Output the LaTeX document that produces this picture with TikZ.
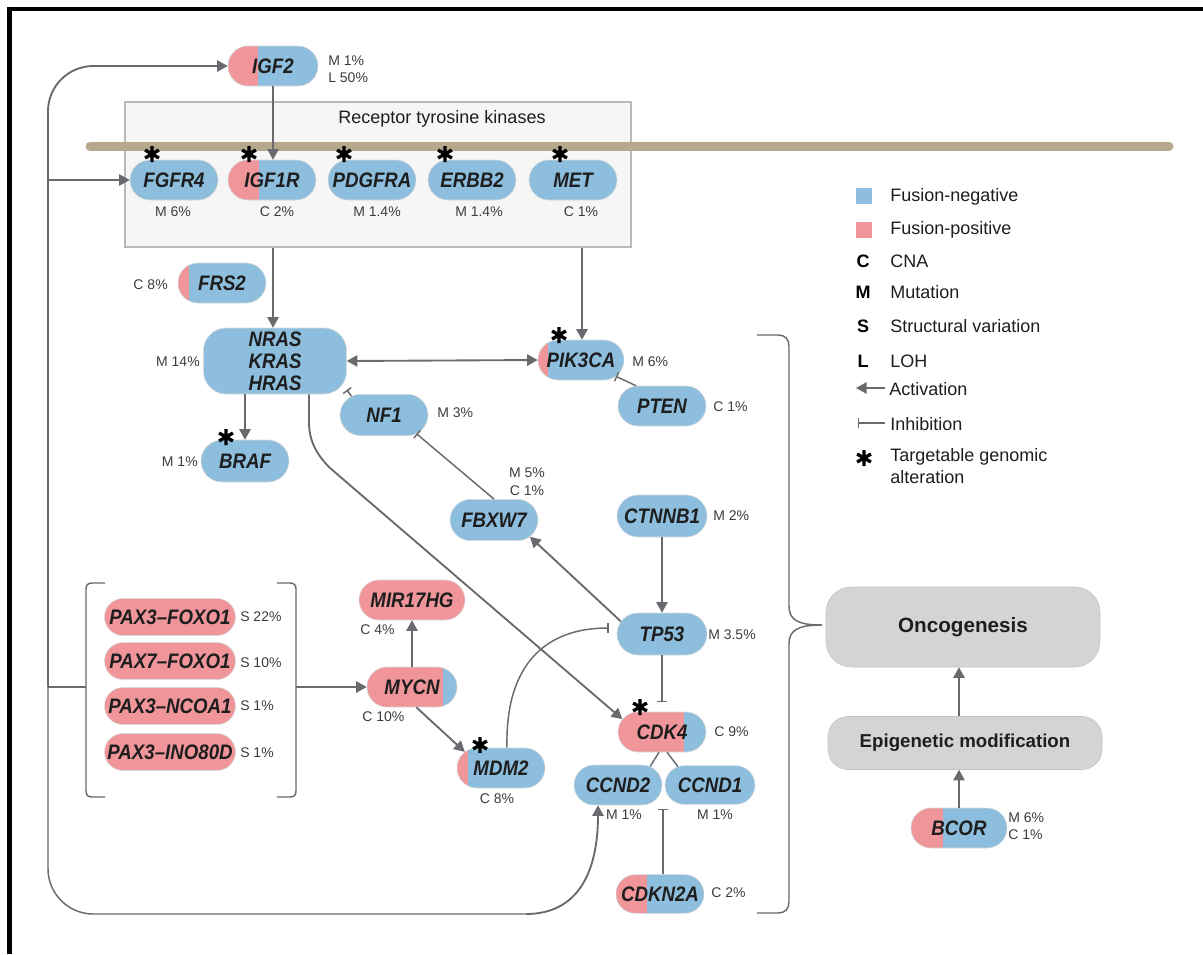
\documentclass[tikz,border=0pt]{standalone}
\usepackage{fontspec}
\setmainfont{Liberation Sans}
\newfontfamily\gf[FakeStretch=0.89]{Liberation Sans}
\usetikzlibrary{arrows.meta,shapes.misc,calc}
\definecolor{blu}{RGB}{141,190,221}
\definecolor{pnk}{RGB}{240,150,155}
\definecolor{agray}{RGB}{105,106,110}
\definecolor{mem}{RGB}{181,168,140}
\definecolor{boxg}{RGB}{212,212,214}
\definecolor{rtkf}{RGB}{246,246,246}
\definecolor{rtkd}{RGB}{185,185,185}
\definecolor{txt}{RGB}{30,30,30}
\definecolor{lbl}{RGB}{60,60,60}
\tikzset{
 gene/.style={rounded rectangle, fill=blu, draw=white!70!gray, line width=0.4pt,
   minimum width=66pt, minimum height=30pt, inner xsep=0pt, inner ysep=0pt, text=txt,
   font=\gf\bfseries\itshape\fontsize{15.75}{16.5}\selectfont},
 pinkpart/.style={path picture={\fill[pnk] (path picture bounding box.south west) rectangle ($(path picture bounding box.north west)+(#1,0)$);}},
 allpink/.style={fill=pnk},
 lab/.style={text=lbl, font=\fontsize{10.5}{13}\selectfont, inner sep=0pt},
 act/.style={draw=agray, line width=1.4pt, -{Triangle[length=8pt,width=8.5pt]}},
 dact/.style={draw=agray, line width=1.4pt, {Triangle[length=8pt,width=8.5pt]}-{Triangle[length=8pt,width=8.5pt]}},
 inh/.style={draw=agray, line width=1.1pt, -{Bar[width=7.5pt]}},
 conn/.style={draw=agray, line width=1.1pt},
 astk/.style={line width=2.5pt, draw=black},
 legt/.style={font=\fontsize{13.5}{17}\selectfont, anchor=west, inner sep=0pt, text=txt},
 legc/.style={font=\bfseries\fontsize{13.5}{17}\selectfont, inner sep=0pt, text=black},
 bigbox/.style={rectangle, fill=boxg, draw=boxg!92!black, line width=0.4pt, text=txt},
}
\newcommand\tast[1]{\draw[astk, shift={(#1)}] (90:8) -- (270:8) (30:8) -- (210:8) (150:8) -- (330:8);}
\begin{document}
\begin{tikzpicture}[x=0.75pt,y=-0.75pt]
\useasboundingbox (0,0) rectangle (1203,954);
% frame
\draw[line width=3.5pt, black] (9.5,954) -- (9.5,9) -- (1203,9);

% RTK box and membrane
\node[draw=rtkd, fill=rtkf, line width=0.8pt, minimum width=379.5pt, minimum height=108.75pt, inner sep=0pt] (RTK) at (378,174.5) {};
\node[legt, anchor=center] (RTKt) at (442,119) {Receptor tyrosine kinases};
\draw[mem, line width=6.75pt, line cap=round] (90,146) -- (1169,146);

% genes
\node[gene, pinkpart=30, minimum width=67.5pt] (IGF2) at (273,66) {IGF2};
\node[gene] (FGFR4) at (174,180) {FGFR4};
\node[gene, pinkpart=31] (IGF1R) at (272,180) {IGF1R};
\node[gene] (PDGFRA) at (372,180) {PDGFRA};
\node[gene] (ERBB2) at (472,180) {ERBB2};
\node[gene] (MET) at (573,180) {MET};
\node[gene, pinkpart=11] (FRS2) at (222,283) {FRS2};
\node[gene, rectangle, rounded corners=17pt, minimum width=107.25pt, minimum height=49.5pt, align=center] (NRAS) at (275,361) {NRAS\\KRAS\\HRAS};
\node[gene, pinkpart=10, minimum width=64.5pt] (PIK3CA) at (581,360) {PIK3CA};
\node[gene] (PTEN) at (662,406) {PTEN};
\node[gene, minimum height=31.5pt] (BRAF) at (245,461) {BRAF};
\node[gene, minimum height=31pt] (NF1) at (384,415) {NF1};
\node[gene, minimum height=31pt] (FBXW7) at (494,520) {FBXW7};
\node[gene, minimum width=67.5pt, minimum height=31.5pt] (CTNNB1) at (662,516) {CTNNB1};
\node[gene, minimum width=67.5pt, minimum height=31.5pt] (TP53) at (662,634) {TP53};
\node[gene, pinkpart=66] (CDK4) at (662,732) {CDK4};
\node[gene] (CCND2) at (618,785) {CCND2};
\node[gene, minimum width=67.5pt, minimum height=29pt] (CCND1) at (710,785) {CCND1};
\node[gene, pinkpart=31, minimum height=29pt] (CDKN2A) at (660,894) {CDKN2A};
\node[gene, allpink, minimum width=79.5pt] (MIR) at (412,600) {MIR17HG};
\node[gene, pinkpart=76, minimum width=67.5pt] (MYCN) at (412,687) {MYCN};
\node[gene, pinkpart=11] (MDM2) at (501,768) {MDM2};
\node[gene, allpink, minimum width=98.25pt, minimum height=27.75pt] (P1) at (170,617) {PAX3–FOXO1};
\node[gene, allpink, minimum width=98.25pt, minimum height=27.75pt] (P2) at (170,661) {PAX7–FOXO1};
\node[gene, allpink, minimum width=98.25pt, minimum height=27.75pt] (P3) at (170,706) {PAX3–NCOA1};
\node[gene, allpink, minimum width=98.25pt, minimum height=27.75pt] (P4) at (170,752) {PAX3–INO80D};
\node[gene, pinkpart=32, minimum width=72pt] (BCOR) at (959,828) {BCOR};
\node[bigbox, rounded corners=19pt, minimum width=205.5pt, minimum height=60pt, font=\bfseries\fontsize{15.5}{18}\selectfont] (ONC) at (963,627) {Oncogenesis};
\node[bigbox, rounded corners=15pt, minimum width=205.5pt, minimum height=39.75pt, font=\bfseries\fontsize{14}{17}\selectfont] (EPI) at (965,743) {Epigenetic modification};

% asterisks
\tast{152,154}
\tast{249,154}
\tast{344,154}
\tast{445,154}
\tast{560,154}
\tast{559,335}
\tast{226,437}
\tast{480,745}
\tast{640,707}

% labels
\node[lab, anchor=west] (l1) at (328,61) {M 1\%};
\node[lab, anchor=west] (l2) at (328,78) {L 50\%};
\node[lab] (l3) at (173,212) {M 6\%};
\node[lab] (l4) at (277,212) {C 2\%};
\node[lab] (l5) at (377,212) {M 1.4\%};
\node[lab] (l6) at (479,212) {M 1.4\%};
\node[lab] (l7) at (581,212) {C 1\%};
\node[lab, anchor=east] (l8) at (168,285) {C 8\%};
\node[lab, anchor=east] (l9) at (200,362) {M 14\%};
\node[lab, anchor=west] (l10) at (632,362) {M 6\%};
\node[lab, anchor=west] (l11) at (713,407) {C 1\%};
\node[lab, anchor=east] (l12) at (198,462) {M 1\%};
\node[lab, anchor=west] (l13) at (437,413) {M 3\%};
\node[lab] (l14) at (527,473) {M 5\%};
\node[lab] (l15) at (527,491) {C 1\%};
\node[lab, anchor=west] (l16) at (713,516) {M 2\%};
\node[lab, anchor=west] (l17) at (708,635) {M 3.5\%};
\node[lab, anchor=west] (l18) at (714,732) {C 9\%};
\node[lab] (l19) at (624,815) {M 1\%};
\node[lab] (l20) at (715,815) {M 1\%};
\node[lab, anchor=west] (l21) at (711,893) {C 2\%};
\node[lab, anchor=west] (l22) at (360,630) {C 4\%};
\node[lab, anchor=west] (l23) at (362,717) {C 10\%};
\node[lab] (l24) at (497,799) {C 8\%};
\node[lab, anchor=west] (l25) at (240,617) {S 22\%};
\node[lab, anchor=west] (l26) at (240,663) {S 10\%};
\node[lab, anchor=west] (l27) at (240,706) {S 1\%};
\node[lab, anchor=west] (l28) at (240,753) {S 1\%};
\node[lab, anchor=west] (l29) at (1008,818) {M 6\%};
\node[lab, anchor=west] (l30) at (1008,835) {C 1\%};

% connectors
\draw[act] (IGF2.south) -- (IGF2.south |- IGF1R.north);
\draw[act] (RTK.south -| 273,0) -- (273,0 |- NRAS.north);
\draw[act] (RTK.south -| 582,0) -- (582,0 |- PIK3CA.north);
\draw[dact] (NRAS.east) -- (PIK3CA.west);
\draw[act] (NRAS.south -| BRAF.north) -- (BRAF.north);
\draw[inh] (NF1.150) -- (NRAS.-22);
\draw[inh] (FBXW7.north) -- (NF1.-30);
\draw[act] (TP53.163) -- (FBXW7.-25);
\draw[act] (CTNNB1.south) -- (TP53.north);
\draw[inh, shorten >=7pt] (TP53.south) -- (CDK4.north);
\draw[inh] (PTEN.142) -- (PIK3CA.-25);
\draw[act] ($(NRAS.south)+(34,0)$) -- ++(0,28) .. controls +(0,18) and (316,454) .. (330,468) -- (CDK4.162);
\draw[inh] ($(MDM2.north)+(6,0)$) .. controls (505,665) and (545,628) .. ($(TP53.west)+(-8,-6)$);
\draw[act] (MYCN.north) -- (MIR.south);
\draw[act] (MYCN.-78) -- (MDM2.156);
\draw[conn] ($(CDK4.south)+(-3,0)$) -- (CCND2.30);
\draw[conn] ($(CDK4.south)+(5,0)$) -- (CCND1.150);
\coordinate (ccb) at (663,809);
\draw[inh] (CDKN2A.north -| ccb) -- (ccb);
\draw[act] (BCOR.north) -- (BCOR.north |- EPI.south);
\draw[act] (BCOR.north |- EPI.north) -- (BCOR.north |- ONC.south);

% fusion brackets
\draw[conn] (105,583) -- (92,583) .. controls (88,583) and (86,585) .. (86,589) -- (86,791) .. controls (86,795) and (88,797) .. (92,797) -- (105,797);
\draw[conn] (277,583) -- (290,583) .. controls (294,583) and (296,585) .. (296,589) -- (296,791) .. controls (296,795) and (294,797) .. (290,797) -- (277,797);
\coordinate (fbl) at (86,687);
\coordinate (fbr) at (296,687);
\coordinate (jn) at (48,687);
\coordinate (jf) at (48,180);
\coordinate (lb) at (526,914);
\draw[act] (fbr) -- (MYCN.west);
\draw[conn] (fbl) -- (jn);
\draw[act, rounded corners=34pt] (jn) |- (IGF2.west);
\draw[act] (jf) -- (FGFR4.west);
\draw[conn, rounded corners=34pt] (jn) |- (lb);
\draw[act] (lb) .. controls (578,914) and (598,872) .. ($(CCND2.south)+(-20,0)$);

% big brace
\coordinate (btip) at (822,625);
\draw[conn] (757,335) -- (778,335) .. controls (785,335) and (789,339) .. (789,346) -- (789,606) .. controls (789,620) and (798,625) .. (btip);
\draw[conn] (btip) .. controls (798,625) and (789,630) .. (789,644) -- (789,902) .. controls (789,909) and (785,913) .. (778,913) -- (757,913);

% legend
\node[fill=blu, minimum width=12pt, minimum height=11.5pt, inner sep=0pt] (lgb) at (864,196) {};
\node[legt] (lgbt) at (890,197) {Fusion-negative};
\node[fill=pnk, minimum width=12pt, minimum height=11.5pt, inner sep=0pt] (lgp) at (864,230) {};
\node[legt] (lgpt) at (890,230) {Fusion-positive};
\node[legc] (lgC) at (863,261) {C};
\node[legt] (lgCt) at (890,261) {CNA};
\node[legc] (lgM) at (863,292) {M};
\node[legt] (lgMt) at (890,292) {Mutation};
\node[legc] (lgS) at (863,326) {S};
\node[legt] (lgSt) at (890,326) {Structural variation};
\node[legc] (lgL) at (863,361) {L};
\node[legt] (lgLt) at (890,361) {LOH};
\coordinate (la1) at (885,388);
\coordinate (la2) at (856,388);
\draw[act] (la1) -- (la2);
\node[legt] (lgA) at (889,389) {Activation};
\coordinate (li1) at (885,423);
\coordinate (li2) at (858,423);
\draw[inh] (li1) -- (li2);
\node[legt] (lgI) at (890,424) {Inhibition};
\tast{864,458}
\node[legt, anchor=north west, align=left] (lgT) at (890,448) {Targetable genomic\\alteration};
\end{tikzpicture}
\end{document}
